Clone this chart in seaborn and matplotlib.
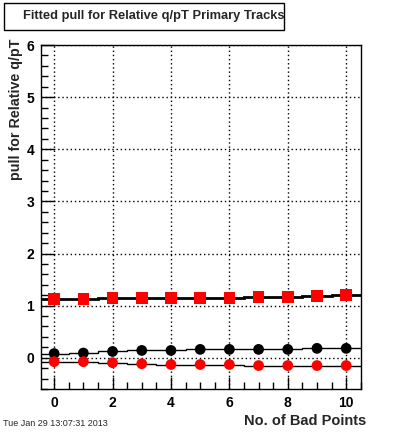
import numpy as np
import pandas as pd
import matplotlib
matplotlib.use("Agg")
import matplotlib.pyplot as plt
import seaborn as sns
from matplotlib.ticker import MultipleLocator
from matplotlib.patches import Rectangle

# 데이터
bad_points = [0, 1, 2, 3, 4, 5, 6, 7, 8, 9, 10]
sigma_pull = [1.13, 1.13, 1.15, 1.15, 1.15, 1.15, 1.15, 1.17, 1.17, 1.18, 1.20]
mean_black = [0.08, 0.09, 0.12, 0.14, 0.14, 0.16, 0.16, 0.16, 0.16, 0.18, 0.18]
mean_red = [-0.075, -0.075, -0.095, -0.115, -0.13, -0.13, -0.13, -0.15, -0.15, -0.15, -0.15]

sns.set_theme(style="white")
plt.rcParams['font.family'] = ['Liberation Sans', 'DejaVu Sans']

fig = plt.figure(figsize=(4.0, 4.33), dpi=100)
ax = fig.add_axes([0.1025, 0.1016, 0.7995, 0.7944])

df = pd.DataFrame({"x": bad_points, "sigma": sigma_pull,
                   "mb": mean_black, "mr": mean_red})
edges = np.append(np.array(bad_points) - 0.5, bad_points[-1] + 0.5)

# 히스토그램 스텝 라인
ax.stairs(df["sigma"], edges, color="black", lw=2, baseline=None, zorder=2)
ax.stairs(df["mb"], edges, color="black", lw=1, baseline=None, zorder=2)
ax.stairs(df["mr"], edges, color="black", lw=1, baseline=None, zorder=2)

# 마커
sns.scatterplot(data=df, x="x", y="sigma", marker="s", s=70, color="red",
                edgecolor="none", ax=ax, zorder=3)
sns.scatterplot(data=df, x="x", y="mb", marker="o", s=60, color="black",
                edgecolor="none", ax=ax, zorder=3)
sns.scatterplot(data=df, x="x", y="mr", marker="o", s=60, color="red",
                edgecolor="none", ax=ax, zorder=3)

ax.set_xlim(-0.45, 10.5)
ax.set_ylim(-0.6, 6)
ax.xaxis.set_major_locator(MultipleLocator(2))
ax.xaxis.set_minor_locator(MultipleLocator(0.5))
ax.yaxis.set_major_locator(MultipleLocator(1))
ax.yaxis.set_minor_locator(MultipleLocator(0.2))
ax.grid(True, which="major", color="black", linestyle=(0, (1, 2)), lw=1)
ax.tick_params(which="both", direction="in", top=False, right=False,
               bottom=True, left=True, colors="black")
ax.tick_params(which="major", length=9, width=1, labelsize=10, pad=5)
ax.tick_params(which="minor", length=5, width=1)
for lab in ax.get_xticklabels() + ax.get_yticklabels():
    lab.set_fontweight("bold")
for sp in ax.spines.values():
    sp.set_color("black")
    sp.set_linewidth(1)

ax.set_xlabel("")
ax.set_ylabel("")
fig.text(0.915, 0.012, "No. of Bad Points", ha="right", va="bottom",
         fontsize=10.5, fontweight="bold")
fig.text(0.039, 0.91, "pull for Relative q/pT", ha="center", va="top",
         rotation=90, fontsize=10.3, fontweight="bold")

# 제목 박스
fig.patches.append(Rectangle((0.01, 0.931), 0.7, 0.062, transform=fig.transFigure,
                             facecolor="white", edgecolor="black", lw=1))
fig.text(0.058, 0.962, "Fitted pull for Relative q/pT Primary Tracks",
         ha="left", va="center", fontsize=9.3, fontweight="bold")

fig.text(0.008, 0.012, "Tue Jan 29 13:07:31 2013", ha="left", va="bottom",
         fontsize=6.5)

fig.savefig("out.png", dpi=100, facecolor="white")
